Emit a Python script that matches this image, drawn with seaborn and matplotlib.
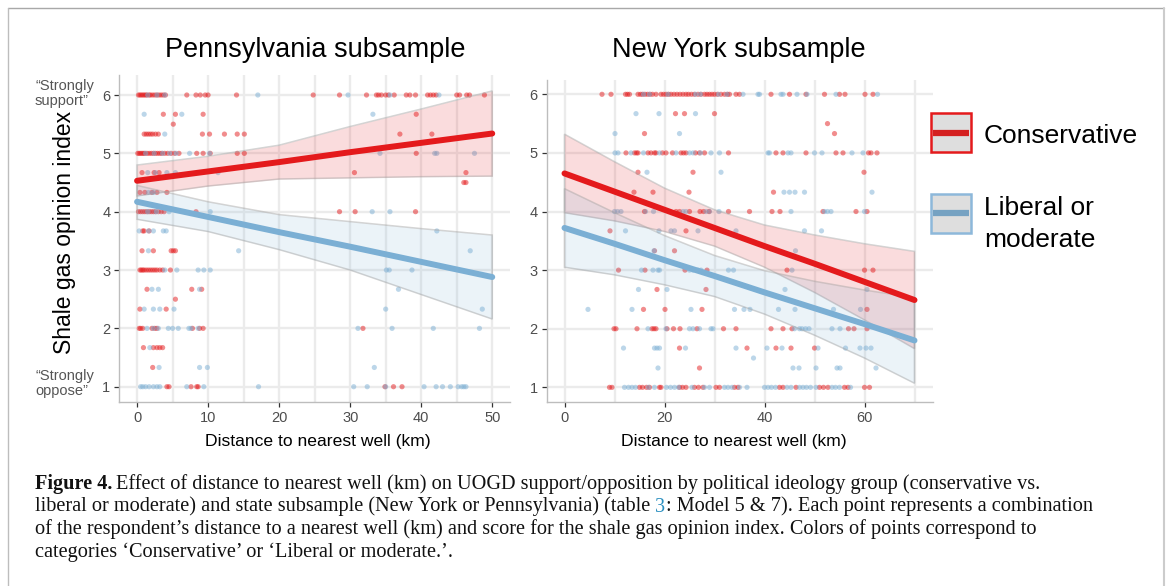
import numpy as np
import pandas as pd
import matplotlib
matplotlib.use("Agg")
import matplotlib.pyplot as plt
import seaborn as sns
from matplotlib.patches import Rectangle, Polygon
from matplotlib.lines import Line2D
from matplotlib.ticker import FixedLocator

# ---------------- data ----------------
groups = ["Conservative", "Liberal or moderate"]
panel_titles = ["Pennsylvania subsample", "New York subsample"]
x_label = "Distance to nearest well (km)"
y_label = "Shale gas opinion index"
y_ticks = [1, 2, 3, 4, 5, 6]
pa_x_ticks = [0, 10, 20, 30, 40, 50]
ny_x_ticks = [0, 20, 40, 60]

# respondents: score level -> distances (km)
pa_con = {
    6: [0.2, 0.4, 0.6, 0.8, 1.0, 1.2, 1.4, 1.7, 1.9, 2.2, 2.5, 2.8, 3.1, 3.4, 3.7, 4.0, 7.0, 8.3, 8.9, 9.6, 10.0, 14.0,
        24.8, 28.5, 32.3, 33.7, 34.0, 34.4, 35.0, 35.4, 36.2, 37.9, 38.4, 39.2, 40.9, 41.3, 41.7, 42.1, 45.0, 45.4,
        46.4, 46.8, 48.9],
    5.67: [3.7, 5.4, 9.3, 39.3],
    5.5: [5.1],
    5.33: [1.0, 1.3, 1.6, 1.9, 2.2, 2.6, 3.0, 9.2, 10.2, 12.3, 14.1, 15.1, 37.0, 41.5],
    5: [0.1, 0.3, 0.5, 0.7, 0.9, 1.1, 1.4, 1.7, 2.0, 2.3, 2.6, 2.9, 3.2, 3.5, 3.9, 4.3, 4.8, 5.3, 5.9, 8.4, 9.3, 10.3,
        14.1, 15.1, 39.3],
    4.67: [0.7, 2.4, 3.1, 30.6, 46.3],
    4.5: [46.0, 46.3],
    4.33: [0.4, 1.1, 2.1, 2.8, 4.2],
    4: [0.2, 0.5, 0.8, 1.1, 1.4, 1.7, 2.0, 2.3, 2.6, 3.0, 3.4, 3.8, 8.3, 28.5, 30.7, 39.2],
    3.67: [0.8, 1.0, 1.7],
    3.33: [0.7, 2.3, 4.8, 5.1, 5.4],
    3: [0.4, 0.6, 0.8, 1.0, 1.3, 1.6, 1.9, 2.2, 2.5, 2.8, 3.2, 3.6, 4.7],
    2.67: [1.4, 7.7, 9.1],
    2.5: [5.4],
    2.33: [0.4, 4.1],
    2: [0.3, 0.5, 0.8, 2.1, 2.5, 2.8, 7.8, 8.8, 9.3, 31.8],
    1.67: [0.9, 2.3, 2.8, 3.2, 3.6],
    1.33: [2.2],
    1: [4.2, 4.5, 7.6, 8.4, 8.6, 34.9, 36.1, 37.3],
}
pa_lib = {
    6: [1.5, 2.8, 3.9, 17.0, 29.7, 35.6, 42.5],
    5.67: [1.0, 6.3, 33.2],
    5.33: [3.9],
    5: [1.2, 2.4, 3.6, 4.6, 5.5, 7.4, 10.2, 34.2, 41.9, 42.2, 47.5],
    4.67: [1.5, 2.6, 4.2, 5.4, 11.4],
    4.33: [1.6, 2.3],
    4: [1.5, 2.7, 4.5, 10.3, 33.1, 35.6],
    3.67: [0.3, 1.6, 2.3, 3.7, 4.1, 42.2],
    3.33: [1.6, 14.3, 46.9],
    3: [3.9, 5.6, 8.6, 9.4, 10.3, 35.1, 35.5, 38.7],
    2.67: [2.1, 3.0, 8.8, 36.8],
    2.33: [1.0, 2.3, 3.2, 5.2, 35.0, 48.6],
    2: [1.4, 2.3, 3.0, 4.4, 5.0, 5.8, 7.3, 7.6, 8.6, 31.1, 35.9, 41.7, 48.2],
    1.67: [1.8],
    1.33: [3.1, 8.8, 9.9, 33.4],
    1: [0.5, 0.8, 1.2, 1.7, 2.3, 2.8, 3.2, 7.0, 9.4, 17.1, 30.5, 32.4, 35.0, 40.4, 42.1, 43.0, 44.1, 45.2, 45.7,
        46.0, 46.3],
}
ny_con = {
    6: [7.5, 9.3, 12.2, 12.6, 13.0, 14.7, 15.2, 15.6, 16.1, 16.6, 17.1, 17.6, 18.3, 19.3, 19.8, 20.3, 20.8, 21.3,
        21.9, 22.5, 23.1, 23.7, 24.3, 24.8, 25.4, 26.0, 26.7, 27.3, 28.0, 28.5, 29.0, 29.5, 30.0, 30.6, 31.3, 32.0,
        32.6, 33.0, 34.3, 35.0, 41.3, 45.0, 48.3, 52.0, 55.0, 56.1, 60.1, 61.7],
    5.67: [22.2, 24.0, 30.0],
    5.5: [52.6],
    5.33: [16.0, 54.0],
    5: [12.3, 14.0, 14.4, 14.7, 16.7, 17.3, 18.0, 18.3, 19.6, 20.3, 21.6, 23.3, 23.8, 24.3, 26.2, 27.0, 28.0, 32.8,
        42.3, 43.7, 48.3, 54.3, 55.7, 60.8, 61.3, 62.5],
    4.67: [14.7, 25.7, 59.9],
    4.33: [13.9, 17.7, 24.9, 41.8],
    4: [16.0, 22.3, 23.0, 25.0, 27.1, 27.8, 28.9, 32.8, 37.0, 41.5, 43.1, 51.7, 58.3, 60.5],
    3.67: [9.1, 24.3],
    3.33: [18.0, 22.0],
    3: [10.8, 16.1, 24.1, 28.5, 44.5, 60.0, 61.7],
    2.67: [18.5, 28.3],
    2.33: [15.8, 20.1, 27.5, 60.5],
    2: [9.9, 10.3, 14.5, 17.5, 17.9, 18.3, 20.5, 21.8, 23.1, 26.5, 31.8, 34.3, 41.3, 43.7, 45.5, 56.8, 57.9, 60.5],
    1.67: [23.0, 36.5, 42.3, 45.3, 50.0],
    1.33: [27.0],
    1: [9.0, 9.5, 15.0, 15.6, 16.4, 17.0, 19.0, 19.3, 23.0, 23.6, 24.3, 26.0, 26.8, 27.7, 30.3, 31.0, 34.0, 34.7,
        43.0, 43.7, 46.3, 51.0, 51.8, 52.7, 56.0, 56.7, 60.0, 61.0],
}
ny_lib = {
    6: [15.8, 17.0, 20.7, 26.2, 27.2, 30.8, 32.5, 35.7, 38.7, 39.0, 43.3, 43.7, 46.5, 48.5, 54.3, 62.6],
    5.67: [14.3, 18.9, 26.2],
    5.33: [10.1, 23.0],
    5: [10.1, 10.7, 13.3, 15.8, 19.0, 22.3, 25.0, 25.7, 27.2, 29.3, 31.0, 40.7, 41.0, 44.7, 45.3, 50.0, 51.5, 57.5,
        59.7],
    4.67: [16.5, 31.3],
    4.33: [43.9, 45.0, 46.1, 48.0, 61.5],
    4: [10.0, 10.6, 11.3, 16.2, 17.8, 23.7, 24.3, 28.3, 29.0, 30.9, 45.3, 52.0, 52.6, 53.3, 60.0],
    3.67: [12.2, 18.9, 21.3, 22.0, 26.7, 34.3, 48.0, 51.4],
    3.33: [17.9, 46.2],
    3: [15.4, 17.7, 18.7, 19.0, 25.0, 25.7, 26.7, 27.3, 32.8, 33.8, 45.5],
    2.67: [14.8, 20.5, 44.1, 60.5],
    2.33: [4.7, 13.5, 25.3, 34.0, 35.9, 37.1, 42.8, 46.1, 53.8, 59.2],
    2: [16.7, 20.3, 25.0, 25.7, 27.0, 29.3, 29.7, 46.0, 47.0, 47.5, 48.2, 48.9, 53.5, 55.1],
    1.67: [11.8, 18.0, 18.5, 19.0, 24.2, 34.3, 40.5, 43.5, 50.7, 56.2, 59.1, 60.3, 61.3],
    1.5: [37.8],
    1.33: [18.7, 45.7, 46.9, 50.3, 54.5, 55.1, 62.3],
    1: [12.0, 12.8, 13.5, 14.2, 16.8, 18.0, 20.4, 21.2, 22.0, 22.8, 25.5, 28.0, 29.0, 32.0, 32.7, 33.5, 35.0, 36.5,
        40.0, 40.7, 41.4, 42.2, 44.5, 45.3, 47.0, 47.7, 48.4, 49.2, 50.3, 53.5, 54.2, 55.0, 57.2],
}

# fitted lines and 95% confidence bands
pa_band_x = [0, 10, 20, 30, 40, 50]
pa_con_fit = [4.53, 4.69, 4.85, 5.02, 5.18, 5.34]
pa_con_lo = [4.27, 4.44, 4.56, 4.58, 4.60, 4.61]
pa_con_hi = [4.80, 4.95, 5.14, 5.46, 5.76, 6.07]
pa_lib_fit = [4.17, 3.91, 3.65, 3.40, 3.14, 2.88]
pa_lib_lo = [3.87, 3.66, 3.35, 3.00, 2.58, 2.16]
pa_lib_hi = [4.45, 4.17, 3.95, 3.83, 3.71, 3.60]

ny_band_x = [0, 10, 20, 30, 40, 50, 60, 70]
ny_con_fit = [4.65, 4.34, 4.03, 3.72, 3.41, 3.11, 2.80, 2.49]
ny_con_lo = [3.98, 3.84, 3.66, 3.41, 3.05, 2.62, 2.15, 1.66]
ny_con_hi = [5.32, 4.85, 4.40, 4.03, 3.77, 3.60, 3.45, 3.32]
ny_lib_fit = [3.72, 3.45, 3.17, 2.90, 2.62, 2.35, 2.08, 1.80]
ny_lib_lo = [3.05, 2.92, 2.75, 2.55, 2.25, 1.89, 1.50, 1.07]
ny_lib_hi = [4.39, 3.98, 3.59, 3.25, 2.99, 2.81, 2.66, 2.53]

caption_head = "Figure 4."
caption_l1 = "Effect of distance to nearest well (km) on UOGD support/opposition by political ideology group (conservative vs."
caption_l2a = "liberal or moderate) and state subsample (New York or Pennsylvania) (table "
caption_l2b = "3"
caption_l2c = ": Model 5 & 7). Each point represents a combination"
caption_l3 = "of the respondent\u2019s distance to a nearest well (km) and score for the shale gas opinion index. Colors of points correspond to"
caption_l4 = "categories \u2018Conservative\u2019 or \u2018Liberal or moderate.\u2019."

# ---------------- style ----------------
RED = "#E41A1C"
BLUE = "#7BAFD4"
W, H = 1171, 586

sns.set_theme(style="white")
plt.rcParams['font.family'] = ['Liberation Sans', 'DejaVu Sans']

fig = plt.figure(figsize=(W / 100, H / 100), dpi=100)
fig.patch.set_facecolor("white")


def fx(x):
    return x / W


def fy(y):
    return 1 - y / H


def to_frame(con, lib):
    rows = []
    for g, d in ((groups[0], con), (groups[1], lib)):
        for lvl, xs in d.items():
            for xv in xs:
                rows.append((xv, lvl, g))
    return pd.DataFrame(rows, columns=["dist", "score", "group"])


def draw_panel(ax, con, lib, bx, cfit, clo, chi, lfit, llo, lhi, xlim, ylim, xmaj, xmin):
    df = to_frame(con, lib)
    sns.scatterplot(data=df, x="dist", y="score", hue="group",
                    palette={groups[0]: RED, groups[1]: BLUE},
                    s=14, alpha=0.5, linewidth=0, legend=False, ax=ax, zorder=2)
    for lo, hi, col in ((clo, chi, RED), (llo, lhi, BLUE)):
        ax.fill_between(bx, lo, hi, color=col, alpha=0.15, lw=0, zorder=3)
        poly = Polygon(list(zip(bx, hi)) + list(zip(bx[::-1], lo[::-1])), closed=True,
                       fill=False, ec="#A0A0A0", lw=1.1, alpha=0.45, zorder=3)
        ax.add_patch(poly)
    sns.lineplot(x=bx, y=cfit, color=RED, lw=4.3, ax=ax, zorder=4)
    sns.lineplot(x=bx, y=lfit, color=BLUE, lw=4.3, ax=ax, zorder=4)

    ax.set_xlim(*xlim)
    ax.set_ylim(*ylim)
    ax.set_xticks(xmaj)
    ax.xaxis.set_minor_locator(FixedLocator(xmin))
    ax.set_yticks(y_ticks)
    ax.set_xlabel("")
    ax.set_ylabel("")
    ax.set_axisbelow(True)
    ax.grid(which="both", axis="x", color="#EBEBEB", lw=1.7)
    ax.grid(which="major", axis="y", color="#EBEBEB", lw=1.7)
    ax.tick_params(which="major", bottom=True, left=True, direction="out", length=3.5, width=0.9,
                   color="#333333", labelcolor="#4D4D4D", labelsize=10.5, pad=3)
    ax.tick_params(which="minor", length=0)
    for s in ("top", "right"):
        ax.spines[s].set_visible(False)
    for s in ("left", "bottom"):
        ax.spines[s].set_color("#BDBDBD")
        ax.spines[s].set_linewidth(1.0)
    ax.set_facecolor("white")


ax1 = fig.add_axes([fx(119.3), fy(402), (510 - 119.3) / W, (402 - 75) / H])
ax2 = fig.add_axes([fx(546.7), fy(402), (933 - 546.7) / W, (402 - 80) / H])

draw_panel(ax1, pa_con, pa_lib, pa_band_x, pa_con_fit, pa_con_lo, pa_con_hi,
           pa_lib_fit, pa_lib_lo, pa_lib_hi, (-2.5, 52.5), (0.738, 6.343),
           pa_x_ticks, [5, 15, 25, 35, 45])
draw_panel(ax2, ny_con, ny_lib, ny_band_x, ny_con_fit, ny_con_lo, ny_con_hi,
           ny_lib_fit, ny_lib_lo, ny_lib_hi, (-3.56, 73.7), (0.75, 6.244),
           ny_x_ticks, [10, 30, 50, 70])

# titles & axis labels
fig.text(fx(315.5), fy(57), panel_titles[0], ha="center", va="baseline", fontsize=19.5, color="black")
fig.text(fx(739), fy(57), panel_titles[1], ha="center", va="baseline", fontsize=19.5, color="black")
fig.text(fx(317.5), fy(446), x_label, ha="center", va="baseline", fontsize=12.6, color="black")
fig.text(fx(734), fy(446), x_label, ha="center", va="baseline", fontsize=12.6, color="black")
fig.text(fx(64), fy(232), y_label, ha="center", va="center", rotation=90, fontsize=16.5, color="black")

# anchor annotations
ann_col = "#555555"
fig.text(fx(35), fy(90), "\u201cStrongly", ha="left", va="baseline", fontsize=10.5, color=ann_col)
fig.text(fx(35), fy(104.5), "support\u201d", ha="left", va="baseline", fontsize=10.5, color=ann_col)
fig.text(fx(35), fy(380), "\u201cStrongly", ha="left", va="baseline", fontsize=10.5, color=ann_col)
fig.text(fx(35), fy(395), "oppose\u201d", ha="left", va="baseline", fontsize=10.5, color=ann_col)

# legend
def legend_key(y0, edge, linecol):
    fig.add_artist(Rectangle((fx(931), fy(y0 + 39)), 40 / W, 39 / H, transform=fig.transFigure,
                             facecolor="#DEDEDE", edgecolor=edge, lw=1.8))
    fig.add_artist(Line2D([fx(933), fx(969)], [fy(y0 + 19.5), fy(y0 + 19.5)], transform=fig.transFigure,
                          color=linecol, lw=4.5, solid_capstyle="butt"))

legend_key(113.5, RED, "#D42020")
legend_key(193.5, "#8DB8DA", "#76A2C2")
fig.text(fx(984), fy(143), groups[0], ha="left", va="baseline", fontsize=19, color="black")
fig.text(fx(984), fy(215), "Liberal or", ha="left", va="baseline", fontsize=19, color="black")
fig.text(fx(984), fy(247), "moderate", ha="left", va="baseline", fontsize=19, color="black")

# border
fig.add_artist(Line2D([fx(8), fx(1163.5)], [fy(8), fy(8)], transform=fig.transFigure, color="#A8A8A8", lw=1.0))
fig.add_artist(Line2D([fx(8), fx(8)], [fy(8), fy(590)], transform=fig.transFigure, color="#BDBDBD", lw=1.0))
fig.add_artist(Line2D([fx(1163.5), fx(1163.5)], [fy(8), fy(590)], transform=fig.transFigure, color="#CCCCCC", lw=1.5))

# caption
serif = ['Liberation Serif', 'DejaVu Serif']
cap_fs = 14.6
ink = "#111111"
r = fig.canvas.get_renderer()
t = fig.text(fx(35), fy(489), caption_head, ha="left", va="baseline", fontsize=cap_fs, family=serif,
             fontweight="bold", color=ink)
w = t.get_window_extent(r).width
fig.text(fx(35 + w + 4), fy(489), caption_l1, ha="left", va="baseline", fontsize=cap_fs, family=serif, color=ink)
t = fig.text(fx(35), fy(511.5), caption_l2a, ha="left", va="baseline", fontsize=cap_fs, family=serif, color=ink)
w = t.get_window_extent(r).width
t2 = fig.text(fx(35 + w), fy(511.5), caption_l2b, ha="left", va="baseline", fontsize=cap_fs, family=serif, color="#2A8FC0")
w2 = t2.get_window_extent(r).width
fig.text(fx(35 + w + w2), fy(511.5), caption_l2c, ha="left", va="baseline", fontsize=cap_fs, family=serif, color=ink)
fig.text(fx(35), fy(534), caption_l3, ha="left", va="baseline", fontsize=cap_fs, family=serif, color=ink)
fig.text(fx(35), fy(556.5), caption_l4, ha="left", va="baseline", fontsize=cap_fs, family=serif, color=ink)

fig.savefig("out.png", dpi=100, facecolor="white")
